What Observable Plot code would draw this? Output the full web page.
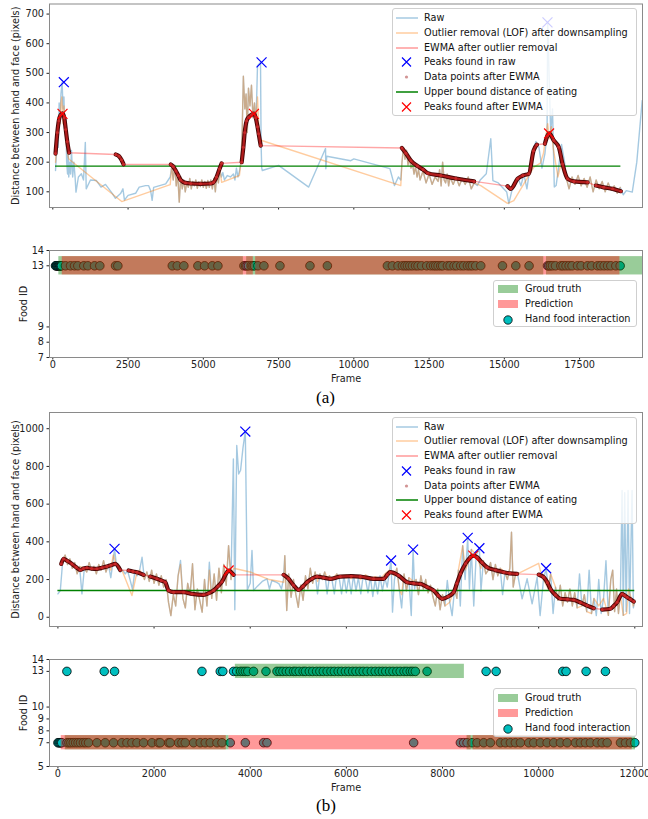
<!DOCTYPE html>
<html><head><meta charset="utf-8">
<script src="https://cdn.jsdelivr.net/npm/d3@7"></script>
<script src="https://cdn.jsdelivr.net/npm/@observablehq/plot@0.6"></script>
<style>
body{margin:0;background:#fff;}
#fig{position:relative;width:648px;height:819px;font-family:"DejaVu Sans",sans-serif;overflow:hidden;}
.panel{position:absolute;left:0;}
.legend{position:absolute;background:rgba(255,255,255,0.8);border:1px solid #cfcfcf;border-radius:3px;box-sizing:border-box;font-size:9.7px;color:#111;}
.row{position:absolute;left:0;height:14px;line-height:14px;white-space:nowrap;}
.row svg{position:absolute;left:2px;top:0;}
.row span{position:absolute;left:31px;top:0;}
.cap{position:absolute;font-family:"Liberation Serif",serif;font-size:17px;line-height:17px;color:#000;}
</style></head>
<body><div id="fig"></div>
<script>
// ---------- Panel (a) data ----------
const xTicksA = [0,2500,5000,7500,10000,12500,15000,17500];
const yTicksA = [100,200,300,400,500,600,700];
const foodTicksA = [7,8,9,13,14];
const rawA = [[90,172],[120,230],[150,300],[180,250],[210,400],[240,330],[270,430],[310,470],[340,380],[370,420],[400,300],[430,350],[460,200],[490,160],[510,250],[530,150],[560,200],[590,160],[620,240],[660,150],[700,200],[740,149],[770,99],[850,150],[950,161],[1020,140],[1080,267],[1110,110],[1250,140],[1450,138],[1600,116],[1750,125],[1980,94],[2080,78],[2250,94],[2330,110],[2380,72],[2500,88],[2750,95],[2870,116],[3080,121],[3180,121],[3250,104],[3300,71],[3350,115],[3750,127],[3900,150],
[3950,185],[4000,140],[4050,190],[4100,120],[4150,160],[4200,65],[4250,150],[4300,110],[4350,140],[4400,100],[4450,130],[4500,115],[4550,145],[4600,110],[4650,135],[4700,120],[4750,140],[4800,112],[4850,133],[4900,118],[4950,140],[5000,115],[5050,135],[5100,112],[5150,138],[5200,115],[5250,140],[5300,110],[5350,145],[5400,100],[5450,160],[5500,130],[5550,175],[5600,150],[5650,165],
[5700,140],[5800,155],[5900,150],[6000,160],[6050,140],[6100,180],[6150,150],[6200,170],[6250,200],[6290,300],[6330,490],[6380,380],[6420,430],[6460,300],[6500,450],[6550,390],[6600,460],[6650,350],[6700,400],[6750,330],[6800,526],[6900,537],[6920,260],[6940,180],[6960,172],[7500,189],[8500,116],[9060,246],[9070,178],[9100,220],[9900,205],[10000,211],[11200,178],[11350,121],[11480,150],[11560,140],
[11600,200],[11650,250],[11700,210],[11750,240],[11800,190],[11850,215],[11900,180],[11950,195],[12000,160],[12050,185],[12100,150],[12150,175],[12200,140],[12300,170],[12400,130],[12500,160],[12600,125],[12700,150],[12800,135],[12850,175],[12900,120],[12950,200],[13000,140],[13050,130],[13100,160],[13150,120],[13200,150],[13300,125],[13400,150],[13500,120],[13600,145],[13700,125],[13800,150],[13900,110],[14000,130],[14100,121],[14200,140],[14400,161],[14550,279],[14620,138],[14800,130],[15080,99],[15150,60],[15250,104],[15350,120],[15450,150],[15550,120],[15650,160],[15750,110],[15850,180],[15950,240],[16050,270],[16150,250],[16250,180],[16350,230],[16420,300],[16440,672],[16540,300],[16600,380],[16660,116],[16720,121],[16800,180],[16900,260],[17000,200],[17050,150],[17150,110],[17250,150],[17350,125],[17450,155],[17550,120],[17650,145],[17750,115],[17850,150],[17950,100],[18050,140],[18150,110],[18250,135],[18350,100],[18450,130],[18550,105],[18650,120],[18750,95],[18850,115],[18950,90],[19050,104],[19250,99],[19400,200],[19580,408]];
const lofA = [[90,200],[120,240],[150,280],[180,300],[210,350],[240,330],[270,400],[300,420],[340,330],[370,390],[400,320],[430,280],[460,250],[490,230],[520,215],[540,210],[2080,84],[2290,67],[3900,124],
[3950,185],[4000,140],[4050,190],[4100,120],[4150,160],[4200,65],[4250,150],[4300,110],[4350,140],[4400,100],[4450,130],[4500,115],[4550,145],[4600,110],[4650,135],[4700,120],[4750,140],[4800,112],[4850,133],[4900,118],[4950,140],[5000,115],[5050,135],[5100,112],[5150,138],[5200,115],[5250,140],[5300,110],[5350,145],[5400,100],[5450,160],[5500,130],[5550,175],[5610,132],[6200,155],
[6250,200],[6290,300],[6330,490],[6380,380],[6420,430],[6460,300],[6500,450],[6550,390],[6600,460],[6650,350],[6700,400],[6750,330],[6800,420],[6850,300],[6890,275],[11560,121],
[11600,200],[11650,250],[11700,210],[11750,240],[11800,190],[11850,215],[11900,180],[11950,195],[12000,160],[12050,185],[12100,150],[12150,175],[12200,140],[12300,170],[12400,130],[12500,160],[12600,125],[12700,150],[12800,135],[12850,175],[12900,120],[12950,200],[13000,140],[13050,130],[13100,160],[13150,120],[13200,150],[13300,125],[13400,150],[13500,120],[13600,145],[13700,125],[13800,150],[13900,110],[14000,130],[14218,121],[15105,61],[15315,70],[15980,183],[16200,197],[16300,230],[16380,290],[16440,330],[16500,280],[16560,320],[16620,250],[16700,200],[16780,150],[16850,180],
[16950,200],[17050,150],[17150,110],[17250,150],[17350,125],[17450,155],[17550,120],[17650,145],[17750,115],[17850,150],[17950,100],[18050,140],[18150,110],[18250,135],[18350,100],[18450,130],[18550,105],[18650,120],[18750,95],[18850,115]];
const ewmaA = [[90,229],[150,300],[200,340],[250,358],[322,365],[380,350],[430,310],[480,270],[540,232],
[2090,226],[2200,220],[2280,208],[2350,193],
[3920,192],[4000,185],[4090,170],[4170,155],[4245,140],[4410,130],[4580,128],[4910,127],[5240,128],[5340,132],[5440,150],[5540,178],[5610,196],
[6274,200],[6330,250],[6374,300],[6440,340],[6507,352],[6600,360],[6681,364],[6740,350],[6800,320],[6839,296],[6906,256],
[11595,248],[11730,230],[11896,205],[12114,187],[12300,175],[12457,163],[12890,155],[13388,145],[13997,135],
[15107,119],[15217,110],[15440,144],[15614,155],[15815,161],[15971,239],[16081,259],
[16347,262],[16436,290],[16489,297],[16645,273],[16811,250],[16934,194],[17101,144],[17310,135],[17766,132],
[18041,121],[18300,115],[18600,110],[18872,102]];
const ewmaGapsA = [[540,2090],[2350,3920],[5610,6274],[6906,11595],[13997,15107],[16081,16347],[17766,18041]];
const peaksRawA = [[366,470],[6935,537],[16433,672]];
const peaksEwmaA = [[322,363],[6681,363],[16487,297]];
const boundA = {value: 187, start: 90, end: 18872};
const handA = [[90,13],[110,13],[130,13],[150,13],[170,13],[190,13],[210,13],[230,13],[250,13],[270,13],[290,13],[422,13],[588,13],[721,13],[831,13],[1030,13],[1163,13],[1386,13],[1562,13],[2084,13],[2161,13],[3969,13],[4135,13],[4354,13],[4820,13],[5042,13],[5298,13],[5485,13],[6349,13],[6405,13],[6450,13],[6500,13],[6595,13],[6650,13],[6700,13],[6814,13],[7014,13],[7546,13],[8543,13],[9121,13],[11115,13],[11281,13],[11468,13],[11614,13],[11700,13],[11780,13],[11860,13],[11947,13],[12050,13],[12133,13],[12250,13],[12421,13],[12555,13],[12650,13],[12721,13],[12800,13],[12887,13],[12950,13],[13109,13],[13200,13],[13330,13],[13420,13],[13552,13],[13650,13],[13774,13],[13860,13],[13940,13],[14050,13],[14217,13],[14938,13],[15381,13],[15822,13],[16434,13],[16480,13],[16530,13],[16600,13],[16700,13],[16877,13],[16950,13],[17050,13],[17152,13],[17250,13],[17431,13],[17550,13],[17763,13],[17900,13],[18096,13],[18200,13],[18316,13],[18430,13],[18538,13],[18704,13],[18847,13]];
const truthA = [[13,200,6330],[13,6440,16310],[13,16400,19590]];
const predA = [[13,313,6660],[13,6740,16400],[13,16400,18840]];

// ---------- Panel (b) data ----------
const xTicksB = [0,2000,4000,6000,8000,10000,12000];
const yTicksB = [0,200,400,600,800,1000];
const foodTicksB = [5,7,8,9,10,13,14];
const rawB = [[0,124],[50,142],[100,300],[150,330],[200,280],[250,310],[300,260],[350,290],[400,230],[450,270],[500,124],[550,260],[600,240],[650,290],[700,250],[750,270],[800,230],[850,280],[900,250],[950,300],[1000,240],[1050,280],[1100,210],[1150,300],[1178,363],[1220,270],[1260,250],[1300,240],[1350,250],[1400,230],[1450,245],[1500,200],[1550,150],[1600,240],[1650,220],[1700,250],[1750,318],[1800,200],[1850,240],[1900,190],[1950,250],[2000,180],[2050,230],[2100,170],[2150,220],[2200,160],[2250,200],[2300,80],[2350,9],[2400,120],[2450,60],[2500,220],[2550,301],[2600,100],[2650,50],[2700,180],[2750,120],[2800,284],[2850,40],[2900,150],[2950,90],[3000,27],[3050,200],[3100,60],[3150,292],[3200,100],[3250,230],[3300,90],[3350,260],[3400,130],[3450,280],[3500,170],[3550,380],[3600,200],[3650,840],[3680,40],[3720,911],[3760,760],[3800,780],[3850,900],[3898,985],[3940,145],[4000,180],[4037,354],[4070,142],[4150,165],[4250,190],[4350,204],[4400,150],[4450,195],[4550,185],[4600,177],[4650,150],[4690,200],[4720,327],[4760,36],[4800,230],[4850,106],[4900,200],[4950,120],[5000,53],[5050,170],[5100,90],[5150,220],[5200,150],[5250,260],[5300,180],[5350,240],[5400,124],[5450,230],[5500,200],[5550,240],[5600,124],[5650,220],[5700,200],[5750,124],[5800,230],[5850,210],[5900,124],[5950,220],[6000,130],[6050,215],[6100,124],[6150,225],[6200,140],[6250,210],[6300,124],[6350,220],[6400,200],[6450,130],[6500,215],[6550,110],[6600,200],[6650,124],[6700,220],[6750,140],[6800,210],[6850,160],[6900,250],[6930,301],[6960,27],[7000,200],[7050,260],[7100,150],[7150,50],[7200,230],[7250,140],[7300,210],[7350,9],[7388,359],[7420,150],[7450,200],[7500,120],[7550,220],[7600,150],[7650,200],[7700,130],[7750,170],[7800,110],[7850,60],[7900,150],[7950,40],[8000,120],[8050,60],[8100,195],[8150,80],[8200,9],[8250,150],[8300,100],[8330,250],[8370,60],[8420,380],[8470,200],[8524,421],[8560,150],[8600,360],[8650,60],[8700,330],[8767,366],[8800,140],[8850,300],[8900,230],[8950,250],[9000,290],[9050,200],[9100,280],[9150,220],[9200,260],[9250,120],[9300,240],[9350,200],[9400,260],[9435,451],[9470,160],[9520,230],[9560,230],[9656,98],[9760,204],[9864,71],[9968,212],[10030,9],[10100,200],[10155,260],[10200,150],[10250,230],[10300,20],[10350,160],[10400,90],[10450,170],[10500,60],[10550,130],[10600,80],[10650,150],[10700,60],[10750,130],[10800,50],[10850,230],[10900,60],[10950,120],[11000,30],[11050,250],[11100,20],[11150,100],[11200,9],[11250,200],[11300,20],[11350,100],[11400,300],[11450,10],[11500,200],[11540,250],[11580,30],[11620,150],[11660,20],[11700,120],[11735,672],[11760,10],[11790,660],[11820,30],[11860,672],[11890,20],[11943,672],[11970,50],[12000,90]];
const lofB = [[100,300],[150,330],[200,280],[250,310],[300,260],[350,290],[400,230],[450,270],[550,260],[600,240],[650,290],[700,250],[750,270],[800,230],[850,280],[900,250],[950,300],[1000,240],[1050,280],[1100,250],[1150,330],[1200,290],[1250,260],[1331,251],[1540,115],[1644,239],[1700,250],[1800,200],[1850,240],[1900,190],[1950,250],[2000,180],[2050,230],[2100,170],[2150,220],[2200,160],[2250,200],[2300,80],[2350,9],[2400,120],[2450,60],[2500,220],[2550,280],[2600,100],[2650,50],[2700,180],[2750,120],[2800,284],[2850,40],[2900,150],[2950,90],[3000,27],[3050,200],[3100,60],[3150,250],[3200,100],[3250,230],[3300,90],[3350,260],[3400,130],[3450,280],[3500,170],[3550,380],[3600,200],[3654,260],[4000,240],[4400,200],[4700,186],[4720,327],[4760,36],[4800,230],[4850,106],[4900,200],[4950,120],[5000,53],[5050,170],[5100,90],[5150,220],[5200,150],[5250,260],[5300,180],[5350,240],[5400,190],[5450,230],[5500,200],[5550,240],[5600,210],[5650,220],[5700,200],[5750,215],[5800,230],[5850,210],[5900,220],[6000,225],[6100,205],[6200,220],[6300,200],[6400,225],[6500,205],[6600,215],[6700,200],[6800,230],[6900,250],[6950,230],[7000,220],[7050,260],[7100,150],[7150,120],[7200,230],[7250,140],[7300,210],[7400,190],[7450,200],[7500,120],[7550,220],[7600,150],[7650,200],[7700,130],[7750,170],[7800,110],[7850,60],[7900,150],[7950,40],[8000,120],[8050,60],[8150,80],[8250,150],[8300,100],[8330,250],[8420,380],[8470,250],[8560,300],[8600,360],[8700,330],[8800,260],[8850,300],[8900,230],[8950,250],[9000,290],[9050,200],[9100,280],[9150,220],[9200,260],[9300,240],[9350,200],[9400,260],[9435,451],[9470,160],[9520,230],[9560,230],[10000,286],[10050,230],[10100,200],[10200,150],[10250,230],[10350,160],[10400,90],[10450,170],[10500,60],[10550,130],[10600,80],[10650,150],[10700,60],[10750,130],[10800,50],[10900,60],[10950,120],[11000,30],[11100,20],[11150,100],[11250,60],[11350,100],[11450,10],[11500,200],[11540,250],[11580,30],[11620,150],[11660,20],[11700,120],[11760,10],[11830,20],[11870,150],[11970,60],[12000,90]];
const ewmaB = [[69,283],[117,310],[200,298],[291,283],[380,265],[464,251],[530,258],[603,262],[700,258],[811,257],[920,263],[1020,269],[1100,276],[1192,283],[1296,251],
[1470,248],[1560,243],[1644,239],[1782,225],
[1920,216],[2060,204],[2150,195],[2233,186],[2302,142],[2406,133],[2614,133],[2789,124],[3030,119],[3140,128],[3238,142],[3330,165],[3413,189],[3517,239],[3551,248],[3654,225],
[4695,225],[4799,204],[4900,170],[5007,145],[5100,165],[5182,186],[5290,205],[5390,216],[5530,210],[5667,204],[5875,216],[6100,218],[6291,216],[6568,204],[6776,204],[6850,225],[6915,239],[7088,221],[7263,186],[7400,180],[7540,177],[7680,160],[7817,142],[7910,115],[7991,98],[8120,110],[8233,133],[8300,180],[8372,230],[8480,285],[8580,318],[8640,327],[8719,318],[8820,290],[8927,265],[9100,250],[9273,239],[9400,233],[9551,230],
[10001,226],[10105,212],[10180,185],[10245,150],[10350,118],[10453,98],[10600,95],[10730,92],[10870,78],[11008,62],[11146,48],
[11321,41],[11494,45],[11560,60],[11633,80],[11737,124],[11790,115],[11841,106],[11910,95],[11979,83]];
const ewmaGapsB = [[1296,1470],[1782,1920],[3654,4695],[9551,10001],[11146,11321]];
const peaksRawB = [[1178,363],[3898,985],[6930,301],[7388,359],[8524,421],[8767,366],[10155,260]];
const peaksEwmaB = [[3551,248],[8640,327]];
const boundB = {value: 142, start: 0, end: 12000};
const hand13B = [187,963,1178,2996,3377,3430,3654,3720,3800,3850,3900,3950,4070,4328,4557,4620,4680,4750,4820,4900,4950,5020,5100,5150,5230,5300,5380,5450,5520,5600,5680,5750,5830,5900,5980,6050,6130,6200,6280,6350,6430,6520,6600,6680,6750,6820,6900,6970,7050,7120,7200,7260,7330,7380,7435,7679,8907,9115,10501,10571,10987,11389];
const hand7B = [0,20,40,60,80,190,230,270,320,370,420,470,530,580,637,811,984,1157,1331,1436,1540,1644,1782,1956,2094,2129,2302,2337,2510,2580,2649,2822,2961,3065,3169,3308,3413,3585,3898,4279,4349,7400,8372,8441,8511,8615,8719,8857,8996,9204,9308,9412,9516,9621,9794,9898,10037,10176,10314,10453,10592,10765,10869,10973,11077,11216,11320,11425,11702,11806,11909,11999];
const truthB = [[13,3690,8455],[7,152,3558],[7,8511,12014]];
const predB = [[7,69,3502],[7,3558,8594],[7,8636,11945]];

const distLegend = [
  {label: "Raw", kind: "line", color: "#1f77b4", op: 0.4},
  {label: "Outlier removal (LOF) after downsampling", kind: "line", color: "#ff7f0e", op: 0.4},
  {label: "EWMA after outlier removal", kind: "line", color: "#ff0000", op: 0.4},
  {label: "Peaks found in raw", kind: "x", color: "#0000ff", op: 1},
  {label: "Data points after EWMA", kind: "dot", color: "#a52a2a", op: 0.5},
  {label: "Upper bound distance of eating", kind: "line", color: "#008000", op: 1},
  {label: "Peaks found after EWMA", kind: "x", color: "#ff0000", op: 1}
];
const foodLegend = [
  {label: "Groud truth", kind: "patch", color: "#008000", op: 0.4},
  {label: "Prediction", kind: "patch", color: "#ff0000", op: 0.4},
  {label: "Hand food interaction", kind: "circle", color: "#00bfbf", op: 1}
];

// ---------- drawing ----------
const W = 648;
const baseStyle = {fontFamily: "'DejaVu Sans', sans-serif", fontSize: "9.7px", color: "#222", background: "transparent", overflow: "visible"};
const fx = d => d[0], fy = d => d[1];
const intFmt = d3.format("d");

function distChart(o) {
  const pts = o.ewma.map(([x, y]) => ({x, y, seg: o.gaps.filter(g => x >= g[1]).length}));
  return Plot.plot({
    width: W, height: o.height, marginLeft: 49, marginRight: 6, marginTop: o.mt, marginBottom: o.mb,
    style: baseStyle,
    x: {domain: o.xDomain, ticks: o.xTicks, tickFormat: () => "", tickSize: 2.5, label: null},
    y: {domain: o.yDomain, ticks: o.yTicks, tickFormat: intFmt, tickSize: 2.5, tickPadding: 3, label: null},
    marks: [
      Plot.line(o.raw, {x: fx, y: fy, stroke: "#1f77b4", strokeOpacity: 0.4, strokeWidth: 1.4}),
      Plot.line(o.lof, {x: fx, y: fy, stroke: "#ff7f0e", strokeOpacity: 0.4, strokeWidth: 1.4}),
      Plot.line(o.ewma, {x: fx, y: fy, stroke: "#ff0000", strokeOpacity: 0.35, strokeWidth: 1.4}),
      Plot.ruleY([o.bound], {y: d => d.value, x1: d => d.start, x2: d => d.end, stroke: "#008000", strokeWidth: 1.3}),
      Plot.line(pts, {x: "x", y: "y", z: "seg", stroke: "#4a0606", strokeWidth: 4.2, curve: "monotone-x"}),
      Plot.line(pts, {x: "x", y: "y", z: "seg", stroke: "#b01c1c", strokeWidth: 2.2, curve: "monotone-x"}),
      Plot.dot(pts, {x: "x", y: "y", r: 1.5, fill: "#c62828"}),
      Plot.dot(o.peaksRaw, {x: fx, y: fy, symbol: "times", r: 4.6, stroke: "#0000ff", strokeWidth: 1.2}),
      Plot.dot(o.peaksEwma, {x: fx, y: fy, symbol: "times", r: 4.6, stroke: "#ff0000", strokeWidth: 1.2}),
      Plot.frame({stroke: "#8a8a8a"}),
      Plot.text(["Distance between hand and face (pixels)"], {frameAnchor: "left", textAnchor: "middle", lineAnchor: "middle", dx: -33.5, rotate: -90, fontSize: 9.7, fill: "#222"})
    ]
  });
}

function foodChart(o) {
  return Plot.plot({
    width: W, height: o.height, marginLeft: 49, marginRight: 6, marginTop: o.mt, marginBottom: o.mb,
    style: baseStyle,
    x: {domain: o.xDomain, ticks: o.xTicks, tickFormat: intFmt, tickSize: 2.5, tickPadding: 1.5, label: null},
    y: {domain: o.yDomain, ticks: o.yTicks, tickFormat: intFmt, tickSize: 2.5, tickPadding: 3, label: null},
    marks: [
      Plot.dot(o.hand, {x: fx, y: fy, r: 4.3, fill: "#00bfbf", stroke: "#000", strokeWidth: 0.8}),
      Plot.rect(o.truth, {x1: d => d[1], x2: d => d[2], y1: d => d[0] - 0.6, y2: d => d[0] + 0.6, fill: "#008000", fillOpacity: 0.4}),
      Plot.rect(o.pred, {x1: d => d[1], x2: d => d[2], y1: d => d[0] - 0.6, y2: d => d[0] + 0.6, fill: "#ff0000", fillOpacity: 0.4}),
      Plot.frame({stroke: "#8a8a8a"}),
      Plot.text(["Food ID"], {frameAnchor: "left", textAnchor: "middle", lineAnchor: "middle", dx: -26, rotate: -90, fontSize: 9.7, fill: "#222"}),
      Plot.text(["Frame"], {frameAnchor: "bottom", lineAnchor: "middle", dy: 21, fontSize: 9.7, fill: "#222"})
    ]
  });
}

function handle(it) {
  const ns = "http://www.w3.org/2000/svg";
  const s = document.createElementNS(ns, "svg");
  s.setAttribute("width", 26); s.setAttribute("height", 14);
  let h = "";
  if (it.kind === "line") h = `<line x1="1" x2="23" y1="7" y2="7" stroke="${it.color}" stroke-opacity="${it.op}" stroke-width="1.5"/>`;
  else if (it.kind === "x") h = `<path d="M7,2.5L16,11.5M16,2.5L7,11.5" stroke="${it.color}" stroke-width="1.2" fill="none"/>`;
  else if (it.kind === "dot") h = `<circle cx="11.5" cy="7" r="1.6" fill="${it.color}" fill-opacity="${it.op}"/>`;
  else if (it.kind === "patch") h = `<rect x="2" y="3" width="20" height="8" fill="${it.color}" fill-opacity="${it.op}"/>`;
  else if (it.kind === "circle") h = `<circle cx="12" cy="8" r="4.2" fill="${it.color}" stroke="#000" stroke-width="0.8"/>`;
  s.innerHTML = h;
  return s;
}

function legend(items, left, top, width, height, y0, step) {
  const box = document.createElement("div");
  box.className = "legend";
  Object.assign(box.style, {left: left + "px", top: top + "px", width: width + "px", height: height + "px"});
  items.forEach((it, i) => {
    const row = document.createElement("div");
    row.className = "row";
    row.style.top = (y0 + i * step - 7) + "px";
    row.appendChild(handle(it));
    const sp = document.createElement("span");
    sp.textContent = it.label;
    row.appendChild(sp);
    box.appendChild(row);
  });
  return box;
}

const fig = document.getElementById("fig");
function place(node, top) {
  const d = document.createElement("div");
  d.className = "panel"; d.style.top = top + "px";
  d.appendChild(node); fig.appendChild(d);
}

place(distChart({raw: rawA, lof: lofA, ewma: ewmaA, gaps: ewmaGapsA, peaksRaw: peaksRawA, peaksEwma: peaksEwmaA, bound: boundA,
  xDomain: [-110, 19590], yDomain: [47, 734], xTicks: xTicksA, yTicks: yTicksA, height: 212, mt: 3.5, mb: 5}), 0);
place(foodChart({hand: handA, truth: truthA, pred: predA, xDomain: [-110, 19590], yDomain: [7, 14], xTicks: xTicksA, yTicks: foodTicksA,
  height: 145, mt: 10, mb: 28}), 240);
place(distChart({raw: rawB, lof: lofB, ewma: ewmaB, gaps: ewmaGapsB, peaksRaw: peaksRawB, peaksEwma: peaksEwmaB, bound: boundB,
  xDomain: [-175, 12160], yDomain: [-49, 1086], xTicks: xTicksB, yTicks: yTicksB, height: 228, mt: 7, mb: 7}), 405);
place(foodChart({hand: [...hand13B.map(f => [f, 13]), ...hand7B.map(f => [f, 7])], truth: truthB, pred: predB,
  xDomain: [-175, 12160], yDomain: [5, 14], xTicks: xTicksB, yTicks: foodTicksB, height: 150, mt: 14, mb: 29}), 645);

fig.appendChild(legend(distLegend, 392, 8, 245, 108, 9, 14.75));
fig.appendChild(legend(distLegend, 392, 417, 245, 107, 8.5, 14.75));
fig.appendChild(legend(foodLegend, 493, 280, 144, 47, 8, 15));
fig.appendChild(legend(foodLegend, 493, 688, 144, 49, 8.5, 15));

const capA = document.createElement("div"); capA.className = "cap"; capA.textContent = "(a)";
capA.style.left = "316px"; capA.style.top = "389px"; fig.appendChild(capA);
const capB = document.createElement("div"); capB.className = "cap"; capB.textContent = "(b)";
capB.style.left = "316px"; capB.style.top = "797px"; fig.appendChild(capB);
</script></body></html>
